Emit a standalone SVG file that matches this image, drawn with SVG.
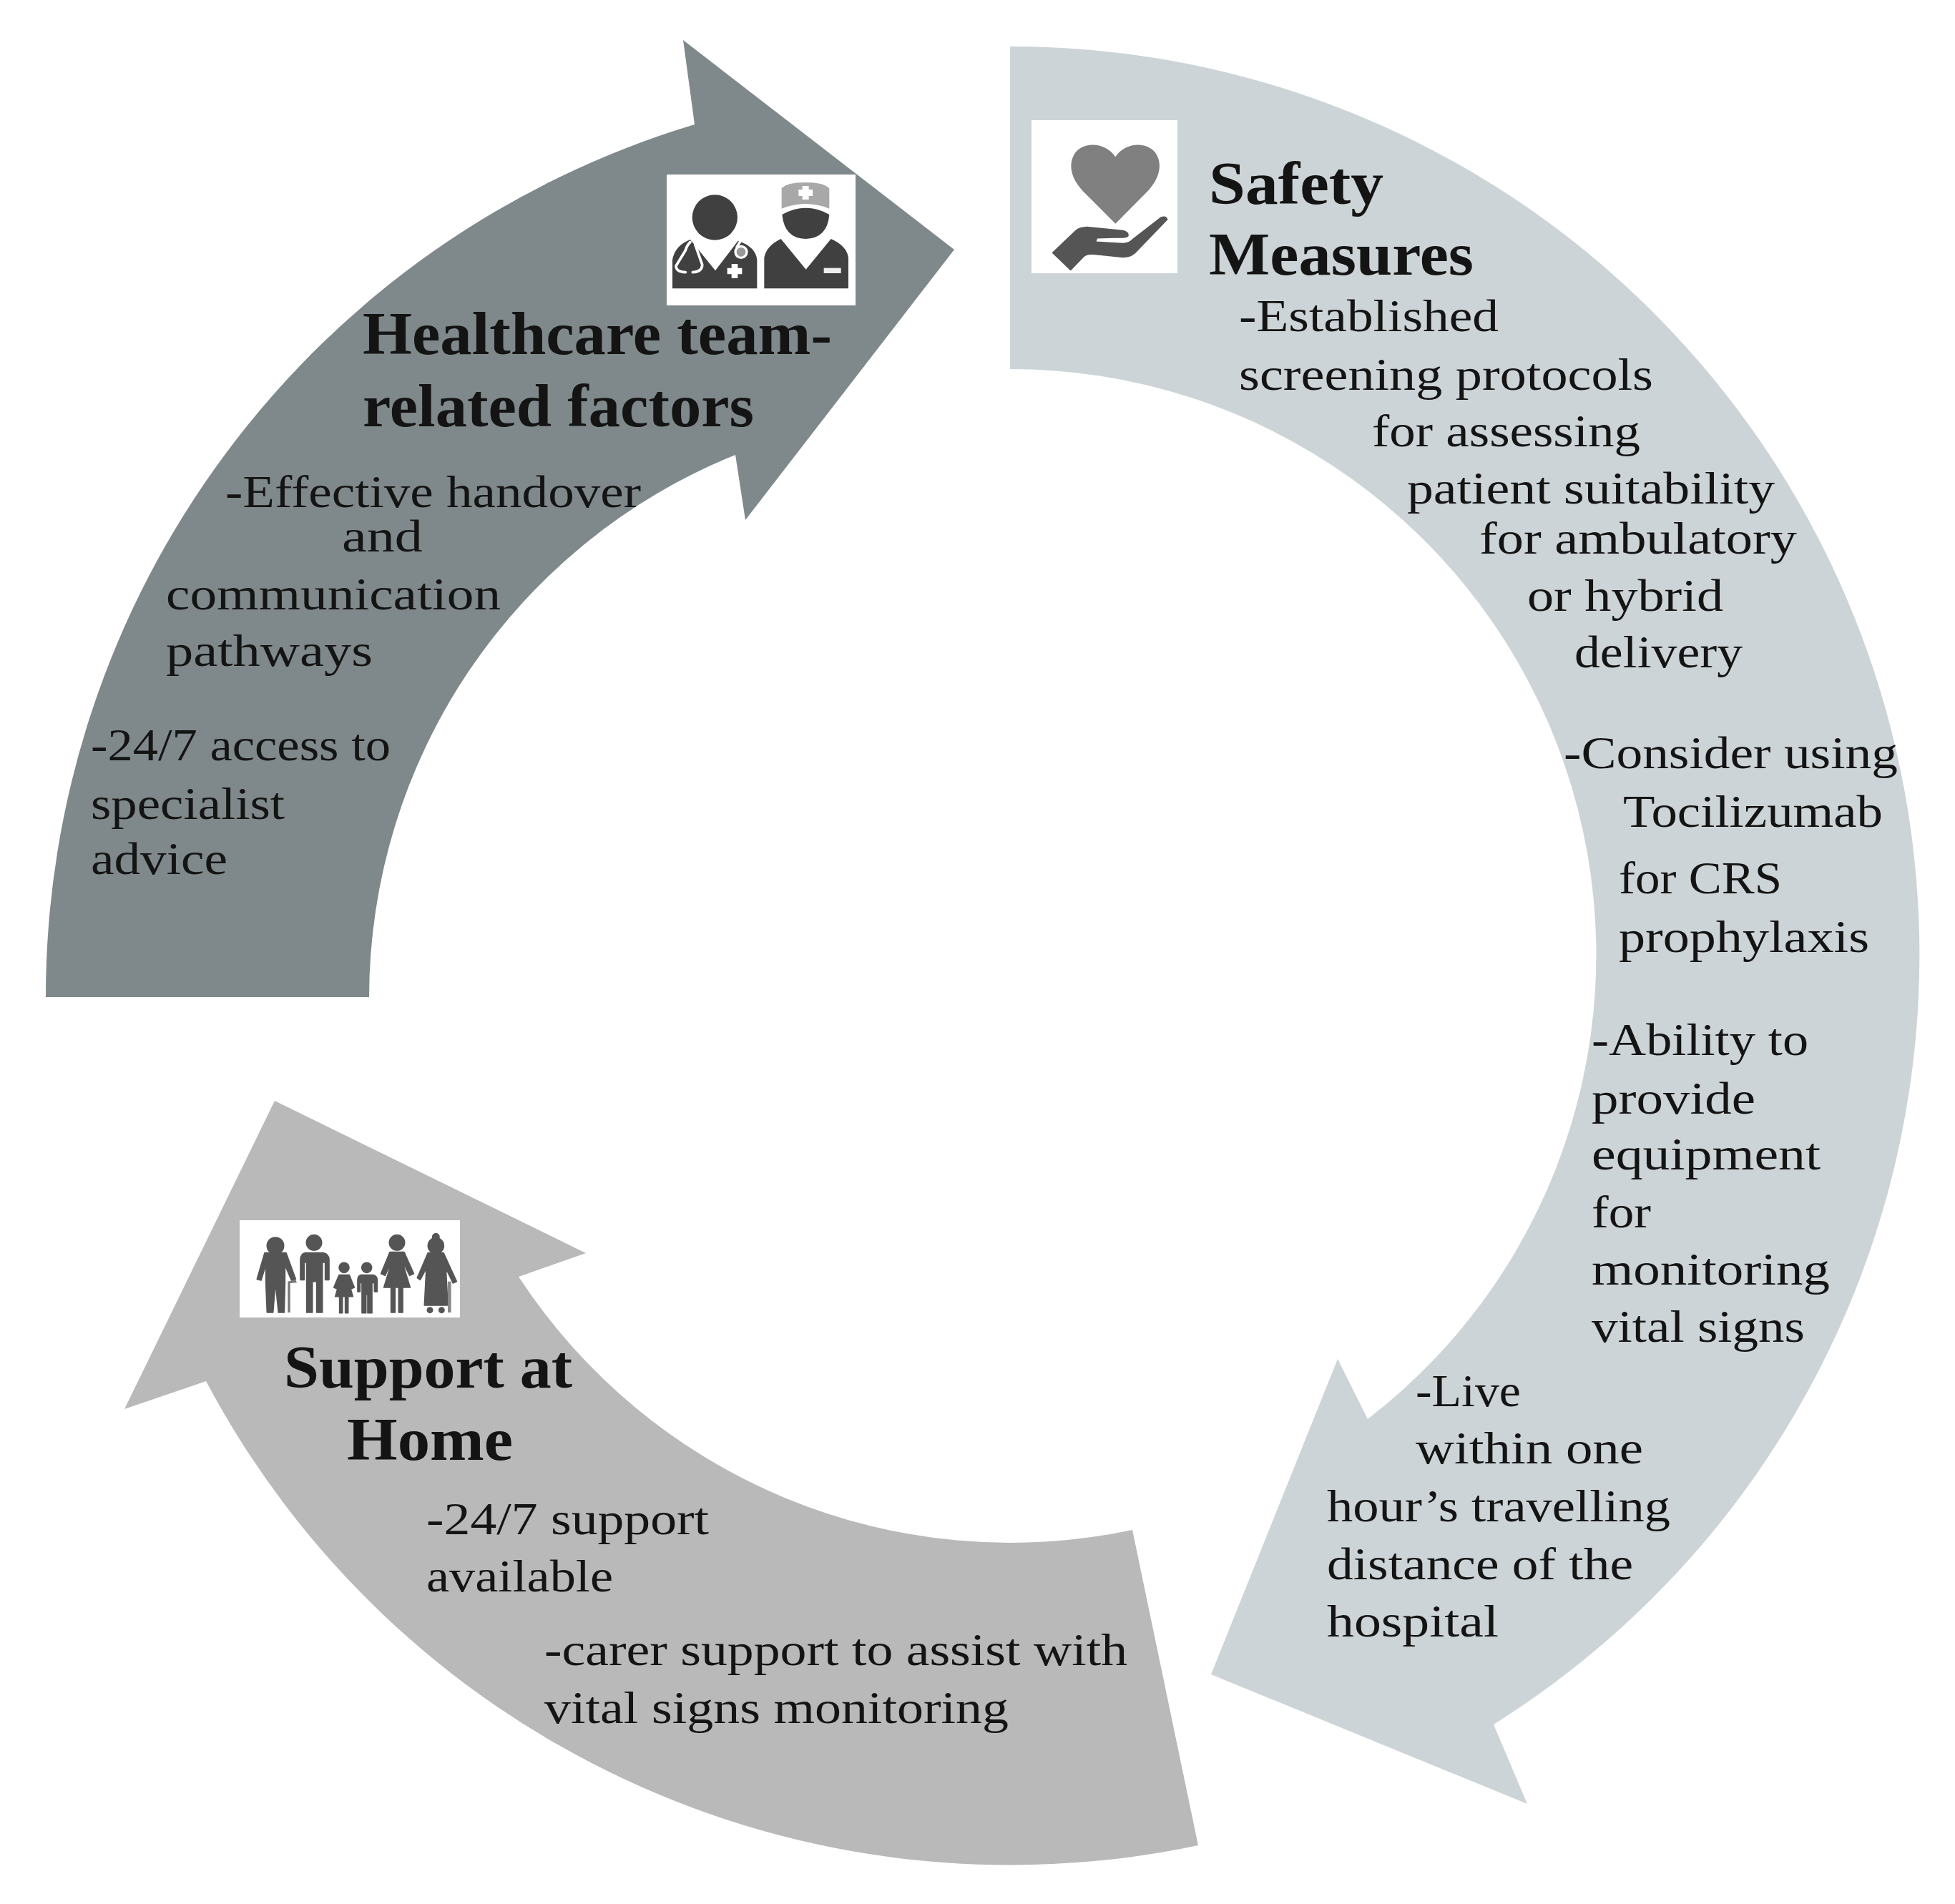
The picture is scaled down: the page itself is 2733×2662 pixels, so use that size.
<svg xmlns="http://www.w3.org/2000/svg" width="2733" height="2662" viewBox="0 0 2733 2662">
<style>
.b{font-family:"Liberation Serif","Noto Serif",serif;font-size:64px;fill:#141414}
.h{font-family:"Liberation Serif",serif;font-size:84px;font-weight:bold;fill:#141414}
text{white-space:pre}
</style>
<defs><filter id="soft" x="-5%" y="-5%" width="110%" height="110%"><feGaussianBlur stdDeviation="1.1"/></filter></defs>
<rect width="2733" height="2662" fill="#fff"/>
<g id="node-safety">
<path fill="#cdd4d8" d="M1412,65 A1270,1270 0 0 1 2088,2411 L2135,2522 L1693,2341 L1870,1900 L1912,1984 A819,819 0 0 0 1412,516 Z"/>
<rect x="1442" y="168" width="204" height="214" fill="#fff"/>
<g transform="translate(1420,150) scale(0.33333)" filter="url(#soft)">
<path fill="#808080" d="M418,208 C380,150 290,140 250,190 C215,240 235,300 280,350 L418,488 L555,350 C600,300 620,240 585,190 C545,140 455,150 418,208Z"/>
<path fill="#555" stroke="#555" stroke-width="5" stroke-linejoin="round" d="M155,610 L255,515 Q270,505 300,503 L450,518 Q475,525 470,540 Q460,548 440,545 L340,548 L335,565 L450,572 Q475,570 490,555 L610,462 Q630,455 635,470 L500,610 Q480,628 450,628 L320,615 Q300,615 285,625 L230,682 Z"/>
</g>
<text class="h" x="1690" y="285" textLength="244" lengthAdjust="spacingAndGlyphs">Safety</text>
<text class="h" x="1690" y="384" textLength="370" lengthAdjust="spacingAndGlyphs">Measures</text>
<text class="b" x="1732" y="463" textLength="363" lengthAdjust="spacingAndGlyphs">-Established</text>
<text class="b" x="1732" y="545" textLength="579" lengthAdjust="spacingAndGlyphs">screening protocols</text>
<text class="b" x="1918" y="624" textLength="375" lengthAdjust="spacingAndGlyphs">for assessing</text>
<text class="b" x="1967" y="704" textLength="514" lengthAdjust="spacingAndGlyphs">patient suitability</text>
<text class="b" x="2068" y="774" textLength="444" lengthAdjust="spacingAndGlyphs">for ambulatory</text>
<text class="b" x="2135" y="854" textLength="274" lengthAdjust="spacingAndGlyphs">or hybrid</text>
<text class="b" x="2201" y="933" textLength="235" lengthAdjust="spacingAndGlyphs">delivery</text>
<text class="b" x="2186" y="1074" textLength="467" lengthAdjust="spacingAndGlyphs">-Consider using</text>
<text class="b" x="2269" y="1156" textLength="363" lengthAdjust="spacingAndGlyphs">Tocilizumab</text>
<text class="b" x="2263" y="1249" textLength="228" lengthAdjust="spacingAndGlyphs">for CRS</text>
<text class="b" x="2263" y="1331" textLength="350" lengthAdjust="spacingAndGlyphs">prophylaxis</text>
<text class="b" x="2225" y="1475" textLength="303" lengthAdjust="spacingAndGlyphs">-Ability to</text>
<text class="b" x="2225" y="1557" textLength="229" lengthAdjust="spacingAndGlyphs">provide</text>
<text class="b" x="2225" y="1635" textLength="320" lengthAdjust="spacingAndGlyphs">equipment</text>
<text class="b" x="2225" y="1716" textLength="83" lengthAdjust="spacingAndGlyphs">for</text>
<text class="b" x="2225" y="1796" textLength="333" lengthAdjust="spacingAndGlyphs">monitoring</text>
<text class="b" x="2225" y="1876" textLength="298" lengthAdjust="spacingAndGlyphs">vital signs</text>
<text class="b" x="1979" y="1966" textLength="147" lengthAdjust="spacingAndGlyphs">-Live</text>
<text class="b" x="1979" y="2046" textLength="318" lengthAdjust="spacingAndGlyphs">within one</text>
<text class="b" x="1855" y="2127" textLength="480" lengthAdjust="spacingAndGlyphs">hour’s travelling</text>
<text class="b" x="1855" y="2208" textLength="428" lengthAdjust="spacingAndGlyphs">distance of the</text>
<text class="b" x="1855" y="2288" textLength="240" lengthAdjust="spacingAndGlyphs">hospital</text>
</g>
<g id="node-support">
<path fill="#b9b9b9" d="M1675,2580 A1272,1272 0 0 1 288,1931 L174,1970 L384,1539 L819,1752 L725,1785 A821,821 0 0 0 1583,2139 Z"/>
<rect x="335" y="1706" width="308" height="136" fill="#fff"/>
<g transform="translate(320,1690) scale(0.33333)" filter="url(#soft)" fill="#555" stroke="#555" stroke-width="5" stroke-linejoin="round">
<circle cx="195" cy="155" r="35"/>
<path d="M150,185 H240 L280,295 L262,300 L235,235 V310 L232,435 H208 L195,310 L185,435 H160 L155,310 V235 L135,300 L118,295 Z"/>
<path d="M247,305 L280,298 L285,310 L257,312 V435 H247 Z" fill="#777" stroke="none"/>
<circle cx="357" cy="142" r="32"/>
<path d="M320,185 H395 Q420,190 420,215 V298 H404 V225 H392 V435 H368 V305 H350 V435 H326 V225 H316 V298 H300 V215 Q300,190 320,185Z"/>
<circle cx="483" cy="247" r="21"/>
<path d="M462,278 H505 L526,330 L514,335 L500,300 L520,368 H446 L466,300 L452,335 L440,330 Z"/>
<path d="M464,368 H476 V437 H464 Z M488,368 H500 V437 H488 Z"/>
<circle cx="578" cy="247" r="21"/>
<path d="M552,278 H605 Q622,282 622,300 V348 H610 V310 H600 V437 H582 V360 H575 V437 H558 V310 H550 V348 H540 V300 Q540,282 552,278Z"/>
<circle cx="705" cy="142" r="32"/>
<path d="M675,182 H735 L775,272 L758,280 L725,215 L760,330 H650 L685,215 L655,280 L638,272 Z"/>
<path d="M680,330 H697 V435 H680 Z M712,330 H729 V435 H712 Z"/>
<circle cx="868" cy="118" r="14"/>
<circle cx="868" cy="155" r="33"/>
<path d="M835,185 H900 L955,305 L940,312 L910,250 L918,405 H820 L828,250 L802,298 L790,290 Z"/>
<circle cx="843" cy="425" r="11"/><circle cx="892" cy="425" r="11"/>
<path d="M918,305 H932 V435 H918 Z" fill="#888" stroke="none"/>
</g>
<text class="h" x="397" y="1940" textLength="403" lengthAdjust="spacingAndGlyphs">Support at</text>
<text class="h" x="485" y="2041" textLength="232" lengthAdjust="spacingAndGlyphs">Home</text>
<text class="b" x="596" y="2145" textLength="395" lengthAdjust="spacingAndGlyphs">-24/7 support</text>
<text class="b" x="596" y="2225" textLength="261" lengthAdjust="spacingAndGlyphs">available</text>
<text class="b" x="761" y="2328" textLength="815" lengthAdjust="spacingAndGlyphs">-carer support to assist with</text>
<text class="b" x="761" y="2409" textLength="649" lengthAdjust="spacingAndGlyphs">vital signs monitoring</text>
</g>
<g id="node-healthcare">
<path fill="#7f898c" d="M64,1394 A1274,1274 0 0 1 971,174 L955,56 L1334,349 L1042,727 L1028,636 A819,819 0 0 0 516,1394 Z"/>
<rect x="932" y="244" width="264" height="183" fill="#fff"/>
<g transform="translate(900,200) scale(0.33333)" filter="url(#soft)">
<circle cx="298" cy="312" r="95" fill="#404040"/>
<path fill="#404040" d="M120,610 V490 Q130,430 195,405 L300,535 L395,410 Q470,435 475,490 V610 Z"/>
<path fill="none" stroke="#fff" stroke-width="11" stroke-linecap="round" d="M195,415 Q180,430 175,450 L135,515 Q135,540 175,542 M215,425 L245,510 Q245,540 205,542"/>
<circle cx="408" cy="457" r="24" fill="#999" stroke="#fff" stroke-width="10"/>
<path fill="none" stroke="#fff" stroke-width="11" d="M388,440 L405,412"/>
<path fill="#fff" d="M368,507 H394 V524 H412 V550 H394 V567 H368 V550 H350 V524 H368 Z"/>
<path fill="#a8a8a8" d="M578,190 Q600,165 678,165 Q755,165 778,190 V275 Q680,235 578,275 Z"/>
<path fill="#fff" d="M665,180 H692 V195 H708 V222 H692 V237 H665 V222 H649 V195 H665 Z"/>
<path fill="#404040" d="M580,300 Q680,245 778,300 Q770,400 678,402 Q590,400 580,300 Z"/>
<path fill="#404040" d="M505,610 V480 Q515,430 575,402 L680,530 L785,402 Q850,430 858,480 V610 Z"/>
<rect x="755" y="524" width="72" height="22" fill="#eee"/>
</g>
<text class="h" x="507" y="495" textLength="656" lengthAdjust="spacingAndGlyphs">Healthcare team-</text>
<text class="h" x="507" y="596" textLength="547" lengthAdjust="spacingAndGlyphs">related factors</text>
<text class="b" x="315" y="709" textLength="581" lengthAdjust="spacingAndGlyphs">-Effective handover</text>
<text class="b" x="478" y="771" textLength="113" lengthAdjust="spacingAndGlyphs">and</text>
<text class="b" x="232" y="852" textLength="468" lengthAdjust="spacingAndGlyphs">communication</text>
<text class="b" x="232" y="931" textLength="289" lengthAdjust="spacingAndGlyphs">pathways</text>
<text class="b" x="127" y="1063" textLength="419" lengthAdjust="spacingAndGlyphs">-24/7 access to</text>
<text class="b" x="127" y="1145" textLength="271" lengthAdjust="spacingAndGlyphs">specialist</text>
<text class="b" x="127" y="1222" textLength="191" lengthAdjust="spacingAndGlyphs">advice</text>
</g>
</svg>
